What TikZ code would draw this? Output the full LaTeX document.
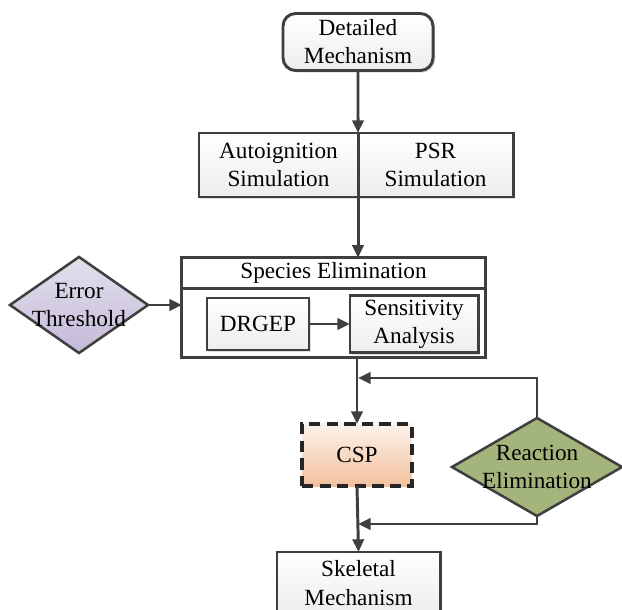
\documentclass[tikz,border=0pt]{standalone}
\usepackage{fontspec}
\setmainfont{Liberation Serif}
\usepackage{xcolor}
\usetikzlibrary{positioning}
\usetikzlibrary{shapes.geometric}
\usetikzlibrary{arrows.meta}
\usetikzlibrary{shadows}
\definecolor{linegray}{HTML}{3F3F3F}
\definecolor{lavender}{HTML}{C3BAD8}
\definecolor{olive}{HTML}{A3B57A}
\definecolor{peach}{HTML}{F2C09C}
\tikzstyle{every node}=[font=\fontsize{16.5}{20}\selectfont, align=center, outer sep=0pt]
\tikzstyle{box}=[rectangle, draw=linegray, line width=2.1pt, top color=white, bottom color=gray!14, drop shadow={shadow xshift=1.5pt, shadow yshift=-1.5pt, opacity=0.25}]
\tikzstyle{plain}=[rectangle, draw=linegray, line width=2.1pt, fill=white]
\tikzstyle{decision}=[diamond, draw=linegray, line width=1.8pt, inner sep=0pt]
\tikzstyle{link}=[-{Triangle[length=9pt,width=8pt]}, draw=linegray, line width=2.1pt]

\begin{document}
\begin{tikzpicture}[x=0.025cm, y=-0.025cm]
    \useasboundingbox (0,0) rectangle (622,609);

    \node[box, rounded corners=9pt, minimum width=3.75cm, minimum height=1.425cm] (detailed) at (358,42) {Detailed\\Mechanism};

    \node[box, minimum width=3.975cm, minimum height=1.6cm] (autoig) at (278.5,165) {Autoignition\\Simulation};
    \node[box, minimum width=3.875cm, minimum height=1.6cm] (psr) [right = 0pt of autoig] {PSR\\Simulation};

    \node[plain, minimum width=7.575cm, minimum height=0.7cm] (header) at (333.5,273) {Species Elimination};
    \node[plain, minimum width=7.575cm, minimum height=1.725cm] (body) [below = 0pt of header] {};
    \node[box, minimum width=2.55cm, minimum height=1.3cm] (drgep) at (258,324) {DRGEP};
    \node[box, minimum width=3.2cm, minimum height=1.3cm] (sens) at (414,324) {Sensitivity\\Analysis};

    \node[decision, minimum width=3.45cm, minimum height=2.4cm, top color=lavender!45, bottom color=lavender, label={center:Error\\Threshold}] (err) at (79,305) {};

    \node[rectangle, draw=black!85, line width=2.2pt, dash pattern=on 8pt off 4.5pt, top color=peach!20, bottom color=peach, minimum width=2.75cm, minimum height=1.55cm] (csp) at (357,455) {CSP};

    \node[decision, minimum width=4.25cm, minimum height=2.45cm, fill=olive, label={center:Reaction\\Elimination}] (reac) at (537,467) {};

    \node[box, minimum width=4.075cm, minimum height=1.55cm] (skel) at (358.5,583) {Skeletal\\Mechanism};

    \coordinate (loopin) at (358,378);
    \coordinate (loopout) at (358,524);

    \draw[link] (detailed.south) to (autoig.south east |- autoig.north);
    \draw[link] (autoig.south east) to (autoig.south east |- header.north);
    \draw[link] (err.east) to (err.east -| body.west);
    \draw[link] (drgep.east) to (sens.west);
    \draw[link] (csp.north |- body.south) to (csp.north);
    \draw[link] (reac.north) |- (loopin);
    \draw[link] (csp.south) to (skel.north);
    \draw[link] (reac.south) |- (loopout);
  \end{tikzpicture}
\end{document}
